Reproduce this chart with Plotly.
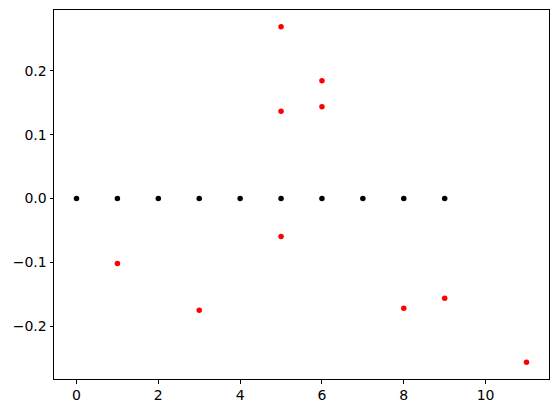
import plotly.graph_objects as go

black_x = [0, 1, 2, 3, 4, 5, 6, 7, 8, 9]
black_y = [0, 0, 0, 0, 0, 0, 0, 0, 0, 0]

red_x = [1, 3, 5, 5, 5, 6, 6, 8, 9, 11]
red_y = [-0.1016, -0.1750, 0.2688, 0.1364, -0.0594, 0.1844, 0.1438, -0.1719, -0.1563, -0.2563]

fig = go.Figure()
fig.add_trace(go.Scatter(x=black_x, y=black_y, mode="markers",
                         marker=dict(color="black", size=5.5, line=dict(width=0))))
fig.add_trace(go.Scatter(x=red_x, y=red_y, mode="markers",
                         marker=dict(color="red", size=5.5, line=dict(width=0))))

axis_common = dict(showgrid=False, zeroline=False, showline=True, mirror=True,
                   linecolor="black", linewidth=1, ticks="outside", ticklen=3.5,
                   tickwidth=0.8, tickcolor="black",
                   tickfont=dict(family="DejaVu Sans", size=14, color="black"))

fig.update_xaxes(range=[-0.55, 11.55], tickmode="linear", tick0=0, dtick=2, **axis_common)
fig.update_yaxes(range=[-0.2826, 0.2951], tickmode="linear", tick0=0, dtick=0.1,
                 tickformat=".1f", **axis_common)

fig.update_layout(width=559, height=413, showlegend=False,
                  margin=dict(l=54, r=10, t=10, b=34),
                  plot_bgcolor="white", paper_bgcolor="white")

fig.write_html("out.html", config={"displayModeBar": False},
               post_script="document.body.style.margin='0';")
